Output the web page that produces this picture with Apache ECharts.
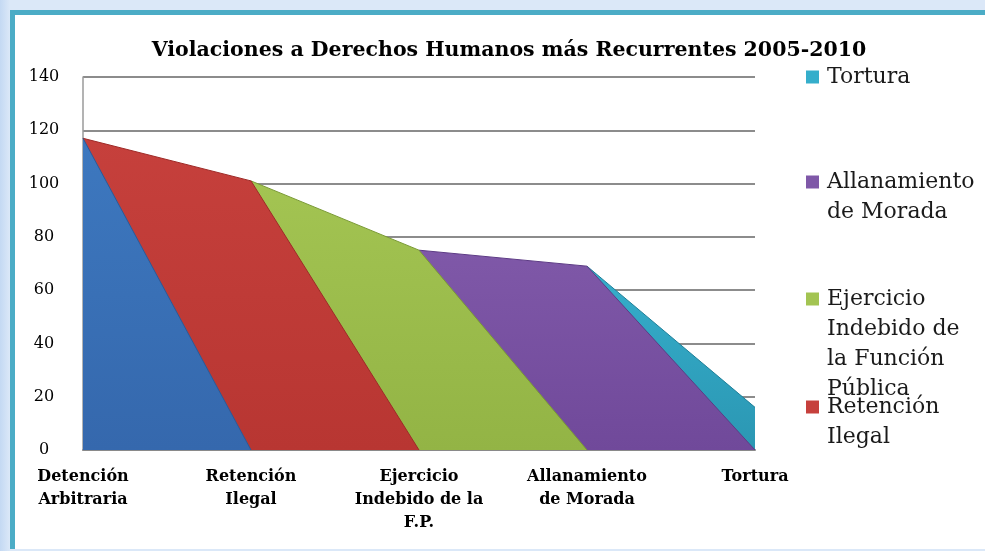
<!DOCTYPE html>
<html>
<head>
<meta charset="utf-8">
<script src="https://cdn.jsdelivr.net/npm/echarts@6/dist/echarts.min.js"></script>
<style>
  html, body { margin: 0; padding: 0; }
  body { width: 985px; height: 551px; position: relative; overflow: hidden;
         background: linear-gradient(90deg, #c4d9f3 0px, #dbe8f8 10px); }
  #frame { position: absolute; left: 10px; top: 10px; right: 0; bottom: 2px;
           background: #fff; border-left: 5px solid #4bacc6; border-top: 5px solid #4bacc6; }
  #violChart { position: absolute; left: 0; top: 0; width: 985px; height: 551px; }
</style>
</head>
<body>
<div id="frame"></div>
<div id="violChart"></div>
<script>
  // categorias del eje x
  var categorias = ['Detención\nArbitraria', 'Retención\nIlegal', 'Ejercicio\nIndebido de la\nF.P.', 'Allanamiento\nde Morada', 'Tortura'];
  var yTicks = [0, 20, 40, 60, 80, 100, 120, 140];

  // valores (cada serie cae a 0 en la siguiente categoria)
  var detencion = [117, 0, null, null, null];
  var retencion = [117, 101, 0, null, null];
  var ejercicio = [null, 101, 75, 0, null];
  var allanamiento = [null, null, 75, 69, 0];
  var tortura = [null, null, null, 69, 16];

  var chart = echarts.init(document.getElementById('violChart'), null, { renderer: 'canvas' });
  var serif = 'DejaVu Serif';

  function area(name, data, c1, c2, edge) {
    return {
      name: name,
      type: 'line',
      data: data,
      symbol: 'none',
      connectNulls: false,
      lineStyle: { color: edge, width: 1 },
      areaStyle: {
        opacity: 1,
        color: new echarts.graphic.LinearGradient(0, 0, 0, 1, [
          { offset: 0, color: c1 },
          { offset: 1, color: c2 }
        ])
      },
      itemStyle: { color: c1 },
      emphasis: { disabled: true }
    };
  }

  // leyendas separadas para poder colocarlas como en el original
  function leyenda(name, top) {
    return {
      data: [name],
      left: 806,
      top: top,
      orient: 'vertical',
      padding: 0,
      icon: 'rect',
      itemWidth: 13,
      itemHeight: 13,
      itemGap: 0,
      formatter: function (n) {
        var map = {
          'Tortura': 'Tortura',
          'Allanamiento de Morada': '\nAllanamiento\nde Morada',
          'Ejercicio Indebido de la Función Pública': '\n\n\nEjercicio\nIndebido de\nla Función\nPública',
          'Retención Ilegal': '\nRetención\nIlegal'
        };
        return map[n];
      },
      textStyle: { fontFamily: serif, fontSize: 22, lineHeight: 30, color: '#1a1a1a', padding: [0, 0, 0, 3] }
    };
  }

  var option = {
    animation: false,
    title: {
      text: 'Violaciones a Derechos Humanos más Recurrentes 2005-2010',
      left: 504,
      textAlign: 'center',
      top: 35,
      textStyle: { fontFamily: serif, fontWeight: 'bold', fontSize: 20.5, color: '#000' }
    },
    legend: [
      leyenda('Tortura', 62),
      leyenda('Allanamiento de Morada', 137),
      leyenda('Ejercicio Indebido de la Función Pública', 194),
      leyenda('Retención Ilegal', 362)
    ],
    grid: { left: 83, right: 230, top: 77, bottom: 101 },
    xAxis: {
      type: 'category',
      data: categorias,
      boundaryGap: false,
      axisTick: { show: false },
      axisLine: { lineStyle: { color: '#8a8a8a', width: 2 } },
      axisLabel: {
        interval: 0,
        margin: 15,
        fontFamily: serif,
        fontWeight: 'bold',
        fontSize: 16,
        lineHeight: 23,
        color: '#000'
      },
      splitLine: { show: false }
    },
    yAxis: {
      type: 'value',
      min: yTicks[0],
      max: yTicks[yTicks.length - 1],
      interval: 20,
      axisLine: { show: true, lineStyle: { color: '#9a9a9a', width: 1.5 } },
      axisTick: { show: false },
      axisLabel: { margin: 39, align: 'center', fontFamily: serif, fontSize: 16, color: '#000', padding: [4, 0, 0, 0] },
      splitLine: { lineStyle: { color: '#8c8c8c', width: 2 } }
    },
    series: [
      area('Tortura', tortura, '#35aecb', '#2b97b3', '#1f7f98'),
      area('Allanamiento de Morada', allanamiento, '#7f58a8', '#70499a', '#5d3b85'),
      area('Ejercicio Indebido de la Función Pública', ejercicio, '#a3c452', '#93b445', '#7a9a35'),
      area('Retención Ilegal', retencion, '#c6403c', '#b83632', '#9e2a27'),
      area('Detención Arbitraria', detencion, '#3d78bf', '#3568ad', '#2b5a98')
    ]
  };

  chart.setOption(option);
</script>
</body>
</html>
